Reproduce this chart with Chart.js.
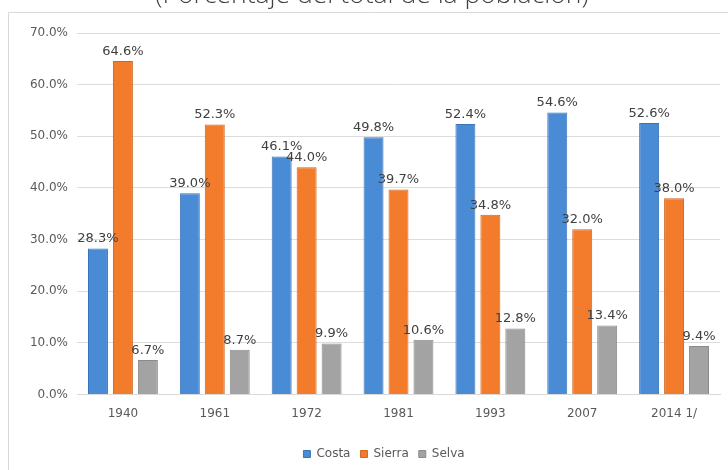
<!DOCTYPE html>
<html>
<head>
<meta charset="utf-8">
<script src="https://cdn.jsdelivr.net/npm/chart.js@4.4.1/dist/chart.umd.min.js"></script>
<style>
  html, body { margin: 0; padding: 0; background: #fff; }
  #wrap { position: relative; width: 728px; height: 470px; overflow: hidden; }
  #title { position: absolute; left: 0; width: 744px; top: -25px; text-align: center;
           font-family: "Open Sans", sans-serif; font-weight: 300; font-size: 26.5px; color: #404040; white-space: nowrap; }
  canvas { position: absolute; left: 0; top: 0; }
</style>
</head>
<body>
<div id="wrap">
  <canvas id="c" width="728" height="470"></canvas>
  <div id="title">(Porcentaje del total de la población)</div>
</div>
<script>
const categories = ["1940", "1961", "1972", "1981", "1993", "2007", "2014 1/"];
const costa  = [28.3, 39.0, 46.1, 49.8, 52.4, 54.6, 52.6];
const sierra = [64.6, 52.3, 44.0, 39.7, 34.8, 32.0, 38.0];
const selva  = [6.7, 8.7, 9.9, 10.6, 12.8, 13.4, 9.4];
const seriesNames = ["Costa", "Sierra", "Selva"];

const FONT = '"DejaVu Sans", sans-serif';

const frame = {
  id: 'frame',
  beforeDraw(chart) {
    const ctx = chart.ctx;
    ctx.save();
    ctx.strokeStyle = '#d9d9d9';
    ctx.lineWidth = 1;
    ctx.beginPath();
    ctx.moveTo(8.5, 470);
    ctx.lineTo(8.5, 12.5);
    ctx.lineTo(728, 12.5);
    ctx.stroke();
    ctx.restore();
  }
};

const legendShift = {
  id: 'legendShift',
  afterLayout(chart) {
    if (chart.legend) { chart.legend.left += 24; chart.legend.right += 24; }
  }
};

const dataLabels = {
  id: 'dataLabels',
  afterDatasetsDraw(chart) {
    const ctx = chart.ctx;
    ctx.save();
    ctx.font = '13px ' + FONT;
    ctx.fillStyle = '#404040';
    ctx.textAlign = 'center';
    ctx.textBaseline = 'bottom';
    chart.data.datasets.forEach((ds, i) => {
      const meta = chart.getDatasetMeta(i);
      meta.data.forEach((el, j) => {
        ctx.fillText(ds.data[j].toFixed(1) + '%', el.x, el.y - 3);
      });
    });
    ctx.restore();
  }
};

new Chart(document.getElementById('c'), {
  type: 'bar',
  data: {
    labels: categories,
    datasets: [
      { label: seriesNames[0], data: costa,  backgroundColor: '#4a8bd6', borderColor: '#3a73b8', borderWidth: 1 },
      { label: seriesNames[1], data: sierra, backgroundColor: '#f27c2c', borderColor: '#d0661f', borderWidth: 1 },
      { label: seriesNames[2], data: selva,  backgroundColor: '#a3a3a3', borderColor: '#8a8a8a', borderWidth: 1 }
    ]
  },
  options: {
    responsive: false,
    animation: false,
    devicePixelRatio: 1,
    layout: { padding: { left: 0, right: 8, top: 33, bottom: 0 } },
    datasets: { bar: { categoryPercentage: 0.815, barPercentage: 0.8 } },
    scales: {
      x: {
        grid: { display: false, drawTicks: false },
        border: { color: '#d9d9d9' },
        afterFit(scale) { scale.height += 5; },
        ticks: { color: '#595959', font: { family: FONT, size: 12 }, padding: 12 }
      },
      y: {
        min: 0, max: 70,
        afterFit(scale) { scale.width = 77; },
        grid: { color: '#dcdcdc', drawTicks: false },
        border: { display: false },
        ticks: {
          stepSize: 10, padding: 9, color: '#595959',
          font: { family: FONT, size: 12 },
          callback: v => v.toFixed(1) + '%'
        }
      }
    },
    plugins: {
      legend: {
        position: 'bottom',
        labels: { boxWidth: 7, boxHeight: 7, padding: 10, color: '#595959', font: { family: FONT, size: 12 } }
      },
      tooltip: { enabled: false }
    }
  },
  plugins: [frame, legendShift, dataLabels]
});
</script>
</body>
</html>
